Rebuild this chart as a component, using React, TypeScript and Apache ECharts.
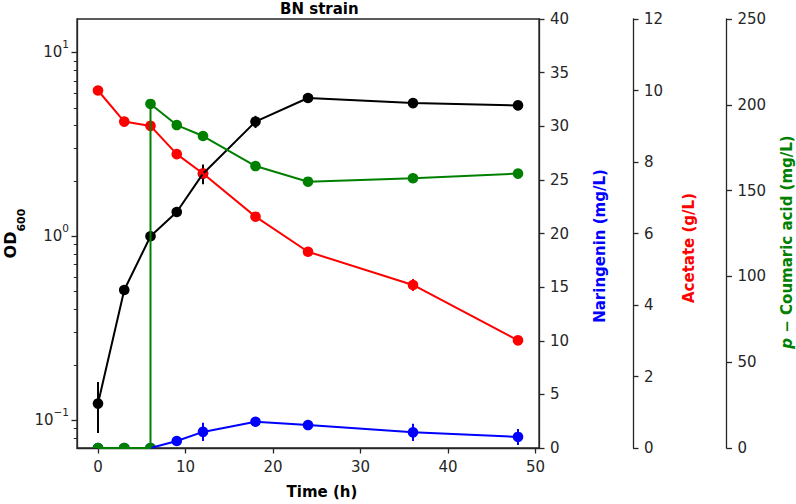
import React, { useEffect, useRef } from "react";
import * as echarts from "echarts";

// ---- data ----
const timeH = [0, 3, 6, 9, 12, 18, 24, 36, 48];
const od600 = [0.123, 0.51, 1.0, 1.355, 2.19, 4.2, 5.65, 5.3, 5.15];
const od600Err = [0.038, 0.025, 0.03, 0.04, 0.27, 0.32, 0.12, 0.1, 0.1];
const naringenin = [0, 0, 0, 0.65, 1.5, 2.45, 2.14, 1.46, 1.03];
const naringeninErr = [0, 0, 0, 0.1, 0.85, 0.3, 0.2, 0.8, 0.75];
const acetate = [10.0, 9.13, 9.01, 8.22, 7.68, 6.47, 5.49, 4.56, 3.01];
const acetateErr = [0.05, 0.05, 0.05, 0.05, 0.1, 0.1, 0.05, 0.17, 0.05];
const coumaricTime = [0, 3, 6, 6, 9, 12, 18, 24, 36, 48];
const coumaric = [0, 0, 0, 200.5, 188.2, 181.8, 164.3, 155.2, 157.2, 159.9];
const coumaricErr = [0, 0, 0, 1, 1, 1, 1, 1, 1, 1];

const xTicks = [0, 10, 20, 30, 40, 50];
const odMajorTicks = [0.1, 1, 10];
const odMinorTicks = [0.08, 0.09, 0.2, 0.3, 0.4, 0.5, 0.6, 0.7, 0.8, 0.9, 2, 3, 4, 5, 6, 7, 8, 9];
const OD_MIN = 0.0705;
const OD_MAX = 15.2;

const BLACK = "#000000";
const BLUE = "#0000ff";
const RED = "#ff0000";
const GREEN = "#008000";
const AXIS = "#262626";
const FONT = "DejaVu Sans";

const lg = (v: number) => Math.log10(Math.max(v, 1e-9));
const ident = (v: number) => v;

function lineSeries(xs: number[], ys: number[], color: string, yAxisIndex: number, tf: (v: number) => number) {
  return {
    type: "line",
    xAxisIndex: 0,
    yAxisIndex,
    symbol: "none",
    clip: true,
    lineStyle: { color, width: 2 },
    data: xs.map((x, i) => [x, tf(ys[i])]),
  };
}

function markerSeries(
  xs: number[],
  ys: number[],
  errs: number[],
  color: string,
  yAxisIndex: number,
  tf: (v: number) => number
) {
  return {
    type: "custom",
    xAxisIndex: 0,
    yAxisIndex,
    clip: true,
    encode: { x: 0, y: 1 },
    data: xs.map((x, i) => [x, tf(ys[i]), tf(ys[i] - errs[i]), tf(ys[i] + errs[i])]),
    renderItem: (params: any, api: any) => {
      const c = api.coord([api.value(0), api.value(1)]);
      const lo = api.coord([api.value(0), api.value(2)]);
      const hi = api.coord([api.value(0), api.value(3)]);
      return {
        type: "group",
        children: [
          {
            type: "line",
            shape: { x1: c[0], y1: lo[1], x2: c[0], y2: hi[1] },
            style: { stroke: color, lineWidth: 2 },
          },
          {
            type: "circle",
            shape: { cx: c[0], cy: c[1], r: 5.3 },
            style: { fill: color },
          },
        ],
      };
    },
  };
}

const tickLabel = { color: AXIS, fontSize: 15, fontFamily: FONT };

function rightAxis(
  name: string,
  color: string,
  max: number,
  interval: number,
  offset: number,
  nameGap: number,
  shift: number,
  rich?: any
) {
  return {
    type: "value",
    position: "right",
    offset,
    min: 0,
    max,
    interval,
    splitLine: { show: false },
    axisLine: { show: true, onZero: false, lineStyle: { color: AXIS, width: 1.3 } },
    axisTick: { show: true, length: 5.5, lineStyle: { color: AXIS, width: 1.3 } },
    axisLabel: { ...tickLabel, margin: 11 },
    name,
    nameLocation: "middle",
    nameRotate: 90,
    nameGap,
    nameMoveOverlap: false,
    nameTextStyle: {
      color,
      fontWeight: "bold",
      fontSize: 15,
      fontFamily: FONT,
      padding: [0, shift, 0, 0],
      rich,
    },
  };
}

export default function App() {
  const ref = useRef<HTMLDivElement>(null);

  useEffect(() => {
    if (!ref.current) return;
    const chart = echarts.init(ref.current, undefined, { renderer: "svg" });

    const option: any = {
      animation: false,
      backgroundColor: "#ffffff",
      textStyle: { fontFamily: FONT },
      title: {
        text: "BN strain",
        left: 280,
        top: 1,
        padding: 0,
        textStyle: { fontSize: 15, fontWeight: "bold", color: "#000", fontFamily: FONT },
      },
      grid: {
        left: 77,
        top: 19,
        width: 462,
        height: 429,
        containLabel: false,
        outerBoundsMode: "none",
        show: true,
        borderColor: AXIS,
        borderWidth: 1.3,
        backgroundColor: "transparent",
      },
      xAxis: {
        type: "value",
        min: -2.4,
        max: 50.4,
        splitLine: { show: false },
        axisLine: { show: true, onZero: false, lineStyle: { color: AXIS, width: 1.3 } },
        axisTick: { show: true, length: 5.5, customValues: xTicks, lineStyle: { color: AXIS, width: 1.3 } },
        axisLabel: { ...tickLabel, margin: 11, customValues: xTicks },
        name: "Time (h)",
        nameLocation: "middle",
        nameGap: 36,
        nameMoveOverlap: false,
        nameTextStyle: {
          color: "#000",
          fontWeight: "bold",
          fontSize: 15,
          fontFamily: FONT,
          padding: [0, 0, 0, 28],
        },
      },
      yAxis: [
        {
          type: "value",
          position: "left",
          min: lg(OD_MIN),
          max: lg(OD_MAX),
          splitLine: { show: false },
          axisLine: { show: true, onZero: false, lineStyle: { color: AXIS, width: 1.3 } },
          axisTick: {
            show: true,
            length: 5.5,
            customValues: odMajorTicks.map(lg),
            lineStyle: { color: AXIS, width: 1.3 },
          },
          axisLabel: {
            ...tickLabel,
            margin: 8,
            customValues: odMajorTicks.map(lg),
            formatter: (v: number) => {
              const e = Math.round(v);
              return "{b|10}{s|" + (e < 0 ? "\u2212" + -e : String(e)) + "}";
            },
            rich: {
              b: { fontSize: 15, lineHeight: 28, color: AXIS, fontFamily: FONT },
              s: { fontSize: 10.5, lineHeight: 12, verticalAlign: "top", color: AXIS, fontFamily: FONT },
            },
          },
          name: "{o|OD}{s|600}",
          nameLocation: "middle",
          nameRotate: 90,
          nameGap: 53,
          nameMoveOverlap: false,
          nameTextStyle: {
            color: "#000",
            fontWeight: "bold",
            fontSize: 15,
            fontFamily: FONT,
            rich: {
              o: { fontSize: 16, fontWeight: "bold", lineHeight: 22, verticalAlign: "top", color: "#000", fontFamily: FONT },
              s: {
                fontSize: 11,
                fontWeight: "bold",
                lineHeight: 12,
                verticalAlign: "top",
                padding: [14, 0, 0, 0],
                color: "#000",
                fontFamily: FONT,
              },
            },
          },
        },
        {
          type: "value",
          position: "left",
          offset: 0,
          min: lg(OD_MIN),
          max: lg(OD_MAX),
          splitLine: { show: false },
          axisLine: { show: false, onZero: false },
          axisTick: {
            show: true,
            length: 3.2,
            customValues: odMinorTicks.map(lg),
            lineStyle: { color: AXIS, width: 1 },
          },
          axisLabel: { show: false },
        },
        rightAxis("Naringenin (mg/L)", BLUE, 40, 5, 0, 53, 25),
        rightAxis("Acetate (g/L)", RED, 12, 2, 94, 48, 29),
        rightAxis("{i|p} \u2212 Coumaric acid (mg/L)", GREEN, 250, 50, 187.5, 53, 17, {
          i: { fontStyle: "italic", fontWeight: "bold", fontSize: 15, color: GREEN, fontFamily: FONT },
        }),
      ],
      series: [
        lineSeries(timeH, od600, BLACK, 0, lg),
        markerSeries(timeH, od600, od600Err, BLACK, 0, lg),
        lineSeries(timeH, naringenin, BLUE, 2, ident),
        markerSeries(timeH, naringenin, naringeninErr, BLUE, 2, ident),
        lineSeries(timeH, acetate, RED, 3, ident),
        markerSeries(timeH, acetate, acetateErr, RED, 3, ident),
        lineSeries(coumaricTime, coumaric, GREEN, 4, ident),
        markerSeries(coumaricTime, coumaric, coumaricErr, GREEN, 4, ident),
      ],
    };

    chart.setOption(option);
    return () => chart.dispose();
  }, []);

  return (
    <div
      ref={ref}
      style={{ position: "absolute", left: 0, top: 0, width: 796, height: 504, background: "#fff" }}
    />
  );
}
